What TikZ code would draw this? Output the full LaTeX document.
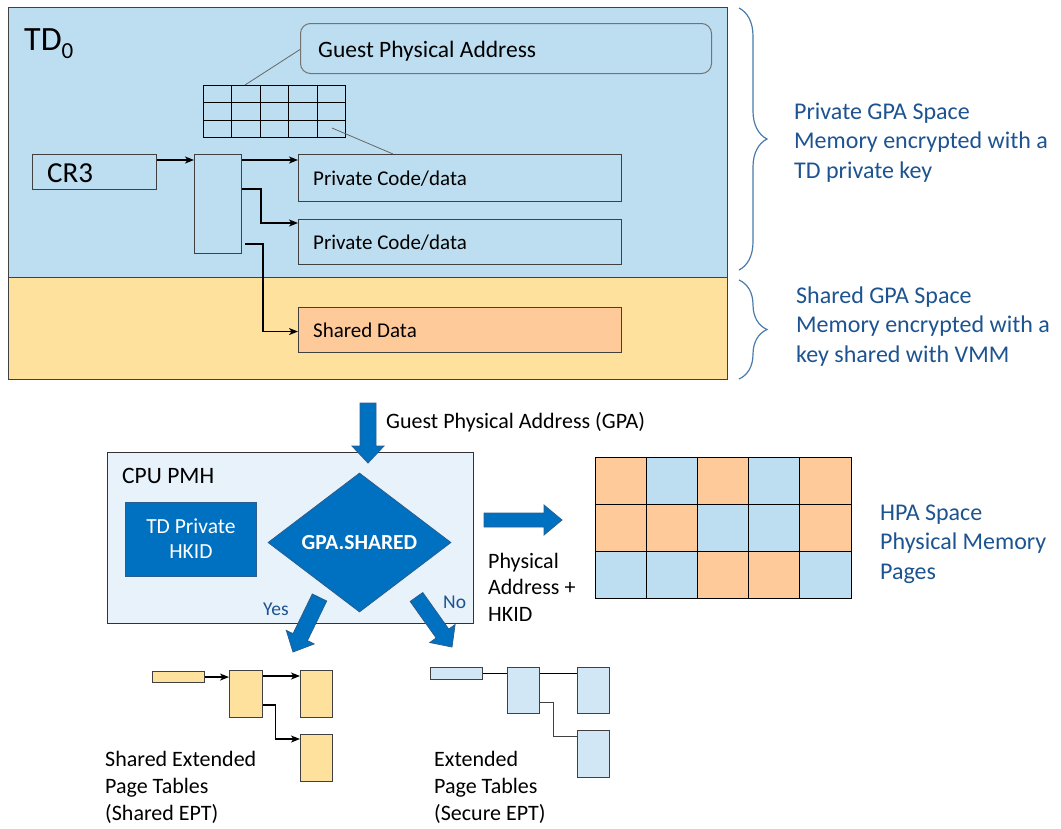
\documentclass[tikz,border=0pt]{standalone}
\usepackage{fontspec}
\setmainfont{Carlito}
\usetikzlibrary{calc,arrows.meta,decorations.pathreplacing,shapes.geometric}
\definecolor{tdblue}{HTML}{BDDEF0}
\definecolor{tdyellow}{HTML}{FFE19E}
\definecolor{shorange}{HTML}{FFCA99}
\definecolor{cpubg}{HTML}{E8F2FA}
\definecolor{intelblue}{HTML}{0070C0}
\definecolor{arrowedge}{HTML}{2B5E8E}
\definecolor{txtblue}{HTML}{1C5390}
\definecolor{eptblue}{HTML}{D2E7F5}
\definecolor{outl}{HTML}{404040}
\definecolor{bracec}{HTML}{4A7BAA}
\newcommand\myfs[1]{\fontsize{#1}{#1}\selectfont}
\newcommand\blkarrow[5]{%
  \coordinate (bah) at ($(#2)!#5!(#1)$);
  \draw[barrow] ($(#1)!#3!90:(#2)$) -- ($(bah)!#3!-90:(#1)$) -- ($(bah)!#4!-90:(#1)$) -- (#2)
     -- ($(bah)!#4!90:(#1)$) -- ($(bah)!#3!90:(#1)$) -- ($(#1)!#3!-90:(#2)$) -- cycle;}
\begin{document}
\begin{tikzpicture}[x=1pt,y=-1pt,
  box/.style={draw=outl, line width=1.1pt, inner sep=0pt, anchor=north west},
  conn/.style={line width=1.3pt, black, -{Stealth[length=9pt,width=7pt,inset=2.5pt]}},
  plain/.style={line width=1pt, outl},
  callout/.style={line width=0.8pt, black!60},
  barrow/.style={fill=intelblue, draw=arrowedge, line width=0.8pt, line join=miter},
  lbl/.style={anchor=base west, inner sep=0pt},
  bluetxt/.style={lbl, text=txtblue, font=\myfs{24}},
  brc/.style={bracec, line width=1.2pt, decorate, decoration={brace, amplitude=28pt}}]
\useasboundingbox (0,0) rectangle (1061,828);

% TD0 regions
\node[box, fill=tdblue, minimum width=719pt, minimum height=270pt] (tdpriv) at (8,7) {};
\node[box, fill=tdyellow, minimum width=719pt, minimum height=102pt] (tdshared) at (8,277) {};
\node[lbl, font=\myfs{34}] (tdlbl) at (24,50) {TD\raisebox{-8pt}{\myfs{23}0}};

% Guest physical address callout
\node[box, draw=black!55, line width=1pt, rounded corners=10pt, fill=tdblue, minimum width=411pt, minimum height=50pt] (gpa) at (300,23) {};
\node[lbl, font=\myfs{23.5}] (gpatxt) at (318,57) {Guest Physical Address};

% small table
\node[box, draw=black, line width=1pt, fill=tdblue, minimum width=142pt, minimum height=52pt] (tbl) at (203,85) {};
\foreach \i in {1,...,4}
  \draw[black, line width=1pt] ($(tbl.north west)!\i/5!(tbl.north east)$) -- ($(tbl.south west)!\i/5!(tbl.south east)$);
\foreach \j in {1,2}
  \draw[black, line width=1pt] ($(tbl.north west)!\j/3!(tbl.south west)$) -- ($(tbl.north east)!\j/3!(tbl.south east)$);

% CR3, page table, targets
\node[box, fill=tdblue, minimum width=124pt, minimum height=35pt] (cr3) at (32,154) {};
\node[lbl, font=\myfs{29}] (cr3txt) at (47,182) {CR3};
\node[box, fill=tdblue, minimum width=47pt, minimum height=99pt] (pt) at (194,154) {};
\node[box, fill=tdblue, minimum width=323pt, minimum height=47pt] (pc1) at (298,154) {};
\node[lbl, font=\myfs{21}] (pc1txt) at (313,185) {Private Code/data};
\node[box, fill=tdblue, minimum width=323pt, minimum height=45pt] (pc2) at (298,219) {};
\node[lbl, font=\myfs{21}] (pc2txt) at (313,249) {Private Code/data};
\node[box, fill=shorange, minimum width=323pt, minimum height=45pt] (sd) at (298,307) {};
\node[lbl, font=\myfs{21}] (sdtxt) at (313,337) {Shared Data};

% callout lines
\coordinate (tbltop) at ($(tbl.north west)+(42,0)$);
\coordinate (tblcell) at ($(tbl.north west)+(129,43)$);
\coordinate (pc1top) at ($(pc1.north west)+(95,0)$);
\draw[callout] ($(gpa.west)+(0,1)$) -- (tbltop);
\draw[callout] (tblcell) -- (pc1top);

% connectors
\draw[conn] ($(cr3.north east)+(0,6)$) -- ($(pt.north west)+(0,6)$);
\draw[conn] ($(pt.north east)+(0,6)$) -- ($(pc1.north west)+(0,6)$);
\draw[conn] ($(pt.north east)+(0,35)$) -- ++(19,0) |- ($(pc2.north west)+(0,4)$);
\draw[conn] ($(pt.south east)+(3,-10)$) -- ++(18,0) |- ($(sd.west)+(0,1.5)$);

% braces
\draw[brc] (739,8) -- (739,270);
\draw[brc] (739,280) -- (739,379);
\foreach \t [count=\k from 0] in {Private GPA Space, Memory encrypted with a, TD private key}
  \node[bluetxt] (privtxt\k) at (794,{119+29.5*\k}) {\t};
\foreach \t [count=\k from 0] in {Shared GPA Space, Memory encrypted with a, key shared with VMM}
  \node[bluetxt] (shtxt\k) at (796,{303+29.5*\k}) {\t};

% CPU PMH
\node[box, draw=black!80, fill=cpubg, minimum width=366pt, minimum height=171pt] (cpu) at (107,452) {};
\node[lbl, font=\myfs{23.5}] (cputxt) at (122,483) {CPU PMH};
\node[box, draw=arrowedge, line width=0.8pt, fill=intelblue, minimum width=131pt, minimum height=74pt] (hkid) at (125,502) {};
\node[anchor=base, inner sep=0pt, text=white, font=\myfs{21.5}] (hk1) at ($(hkid.north)+(0,31)$) {TD Private};
\node[anchor=base, inner sep=0pt, text=white, font=\myfs{21.5}] (hk2) at ($(hkid.north)+(0,56)$) {HKID};
\node[diamond, draw=arrowedge, fill=intelblue, line width=0.8pt, minimum width=183pt, minimum height=139pt, inner sep=0pt, aspect=1.3, text=white, font=\bfseries\myfs{21.5}] (gs) at (359.5,542.5) {GPA.SHARED};
\node[lbl, text=txtblue, font=\myfs{19.5}] (yes) at (263,615) {Yes};
\node[lbl, text=txtblue, font=\myfs{19.5}] (no) at (443,608) {No};

% block arrows
\coordinate (dA) at (368,403); \coordinate (dB) at (368,463);
\blkarrow{dA}{dB}{8pt}{16pt}{17pt}
\node[lbl, font=\myfs{22}] (gpalbl) at (386,428) {Guest Physical Address (GPA)};
\coordinate (yA) at (319.5,597.5); \coordinate (yB) at (293,652);
\blkarrow{yA}{yB}{8pt}{15.5pt}{16.5pt}
\coordinate (nA) at (416.5,597); \coordinate (nB) at (452,647);
\blkarrow{nA}{nB}{7.7pt}{15.5pt}{16.5pt}
\coordinate (rA) at (484,520); \coordinate (rB) at (562,520);
\blkarrow{rA}{rB}{7pt}{15pt}{18pt}
\foreach \t [count=\k from 0] in {Physical, Address +, HKID}
  \node[lbl, font=\myfs{22}] (patxt\k) at (488,{568+26.5*\k}) {\t};

% HPA grid
\foreach \cx/\cy/\cc in {0/0/shorange,1/0/tdblue,2/0/shorange,3/0/tdblue,4/0/shorange,
  0/1/shorange,1/1/shorange,2/1/tdblue,3/1/tdblue,4/1/shorange,
  0/2/tdblue,1/2/tdblue,2/2/shorange,3/2/shorange,4/2/tdblue}
  \draw[black, line width=1pt, fill=\cc] ({595+51.2*\cx},{457+47*\cy}) rectangle ++(51.2,47);
\foreach \t [count=\k from 0] in {HPA Space, Physical Memory, Pages}
  \node[bluetxt] (hpatxt\k) at (880,{520+29.5*\k}) {\t};

% Shared EPT
\node[box, fill=tdyellow, minimum width=52pt, minimum height=11pt] (sbar) at (152,671) {};
\node[box, fill=tdyellow, minimum width=33pt, minimum height=47pt] (sA) at (229,670) {};
\node[box, fill=tdyellow, minimum width=32pt, minimum height=47pt] (sB) at (300,670) {};
\node[box, fill=tdyellow, minimum width=32pt, minimum height=47pt] (sC) at (300,734) {};
\draw[conn, line width=1.2pt] (sbar.east) -- (sbar.east -| sA.west);
\draw[conn, line width=1.2pt] ($(sA.north east)+(0,6)$) -- ($(sB.north west)+(0,6)$);
\draw[conn, line width=1.2pt] ($(sA.north east)+(0,35)$) -- ++(12,0) |- ($(sC.north west)+(0,5)$);
\foreach \t [count=\k from 0] in {Shared Extended, Page Tables, (Shared EPT)}
  \node[lbl, font=\myfs{22}] (setxt\k) at (105,{766+27*\k}) {\t};

% Secure EPT
\node[box, fill=eptblue, minimum width=52pt, minimum height=12pt] (xbar) at (430,667) {};
\node[box, fill=eptblue, minimum width=32pt, minimum height=46pt] (xD) at (507,667) {};
\node[box, fill=eptblue, minimum width=32pt, minimum height=46pt] (xE) at (577,667) {};
\node[box, fill=eptblue, minimum width=32pt, minimum height=47pt] (xF) at (577,730) {};
\draw[plain, black] (xbar.east) -- (xbar.east -| xD.west);
\draw[plain, black] ($(xD.north east)+(0,6)$) -- ($(xE.north west)+(0,6)$);
\draw[plain] ($(xD.north east)+(0,35)$) -- ++(13,0) |- ($(xF.north west)+(0,6)$);
\foreach \t [count=\k from 0] in {Extended, Page Tables, (Secure EPT)}
  \node[lbl, font=\myfs{22}] (xetxt\k) at (434,{766+27*\k}) {\t};
\end{tikzpicture}
\end{document}
